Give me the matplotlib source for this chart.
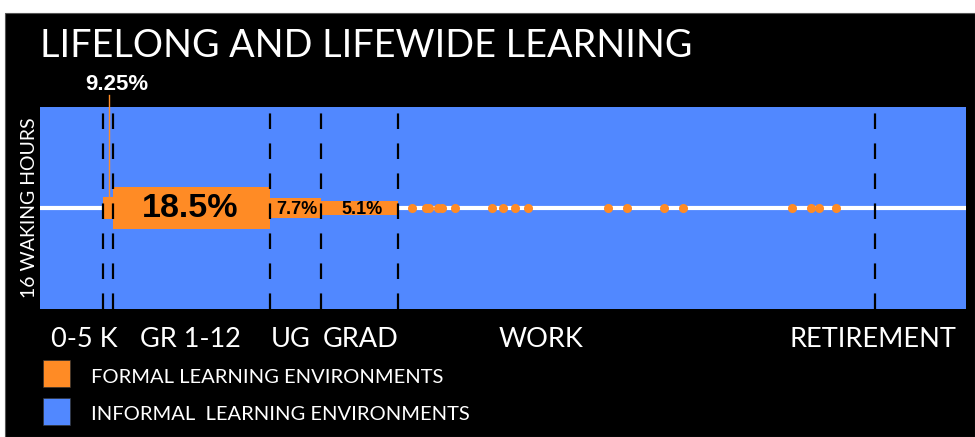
import matplotlib
matplotlib.use("Agg")
import matplotlib.pyplot as plt
from matplotlib.patches import Rectangle

# ---------------- data ----------------
stage_labels = ["0-5 K", "GR 1-12", "UG", "GRAD", "WORK", "RETIREMENT"]
stage_label_x = [44, 150, 251, 321, 501, 833]        # label centres along the life span
stage_edges = [63, 73, 230, 281, 358, 835]           # dashed boundaries
span_end = 926

bar_left = [63, 73, 230, 281]
bar_right = [73, 230, 281, 358]
bar_hours = [1.74, 3.33, 1.66, 1.11]                 # height of formal block (hours of 16)
bar_labels = ["9.25%", "18.5%", "7.7%", "5.1%"]

work_events = [372.3, 385.7, 389.3, 398.3, 402, 415, 451.7, 463, 475.3, 488,
               568, 587, 623.7, 642.7, 752, 770.7, 778.7, 796.3]

waking_hours = 16
legend_labels = ["FORMAL LEARNING ENVIRONMENTS", "INFORMAL  LEARNING ENVIRONMENTS"]
title = "LIFELONG AND LIFEWIDE LEARNING"

ORANGE = "#FF8B25"
BLUE = "#5188FF"

W, H = 975, 437
fig = plt.figure(figsize=(W / 100, H / 100), dpi=100)
fig.patch.set_facecolor("white")


def fx(px):
    return px / W


def fy(py):
    return 1 - py / H


# black panel
fig.patches.append(Rectangle((fx(5), 0), 1 - fx(5), fy(13), transform=fig.transFigure,
                             facecolor="black", edgecolor="#555555", lw=0.8, zorder=-10))

ax = fig.add_axes([fx(40), fy(309), fx(966) - fx(40), fy(107) - fy(309)])
ax.set_zorder(1)
ax.set_facecolor(BLUE)
ax.set_xlim(0, span_end)
ax.set_ylim(0, waking_hours)
for s in ax.spines.values():
    s.set_visible(False)
ax.set_xticks([])
ax.set_yticks([])

mid = waking_hours / 2
ax.axhline(mid, color="white", lw=3, zorder=1)

for l, r, h in zip(bar_left, bar_right, bar_hours):
    ax.bar(l, h, width=r - l, bottom=mid - h / 2, align="edge", color=ORANGE,
           edgecolor="none", zorder=2)

ax.plot(work_events, [mid] * len(work_events), "o", color=ORANGE, ms=6.5,
        mec="none", zorder=3)

for x in stage_edges:
    ax.axvline(x, color="black", lw=1.6, dashes=(7, 6.5), zorder=4)

lab = dict(family="Liberation Sans", weight="bold", color="black", ha="center",
           va="center", zorder=5)
ax.text((bar_left[1] + bar_right[1]) / 2 - 1, mid - 0.05, bar_labels[1], fontsize=24.5, **lab)
ax.text((bar_left[2] + bar_right[2]) / 2 + 1, mid - 0.1, bar_labels[2], fontsize=13, **lab)
ax.text((bar_left[3] + bar_right[3]) / 2 + 3, mid - 0.1, bar_labels[3], fontsize=13, **lab)

# 9.25% call-out
kx = (bar_left[0] + bar_right[0]) / 2 + 1
ax.plot([kx, kx], [mid + bar_hours[0] / 2, waking_hours + 0.95], color=ORANGE, lw=1,
        clip_on=False, zorder=3)
ax.text(kx + 8, waking_hours + 1.75, bar_labels[0], fontsize=16, family="Liberation Sans",
        weight="bold", color="white", ha="center", va="center", clip_on=False)

# stage labels under the axis
for x, s in zip(stage_label_x, stage_labels):
    ax.text(x, -(347 - 309) / (309 - 107), s, transform=ax.get_xaxis_transform(),
            ha="center", va="baseline", fontsize=19.5, color="white", family="Lato",
            clip_on=False)

# title
fig.text(fx(40), fy(57), title, fontsize=27.2, color="white", family="Lato",
         weight="normal", ha="left", va="baseline")

# y label
fig.text(fx(30), fy(208), "16 WAKING HOURS", rotation=90, fontsize=14, color="white",
         family="Lato", ha="center", va="center")

# legend
for i, (c, t) in enumerate(zip([ORANGE, BLUE], legend_labels)):
    top = 360 + i * 38
    fig.patches.append(Rectangle((fx(43), fy(top + 27)), fx(27), 27 / H,
                                 transform=fig.transFigure, facecolor=c,
                                 edgecolor="#333333", lw=0.5))
    fig.text(fx(91), fy(383 + i * 37), t, fontsize=14.5, color="white", family="Lato",
             ha="left", va="baseline")

fig.savefig("out.png", dpi=100)
